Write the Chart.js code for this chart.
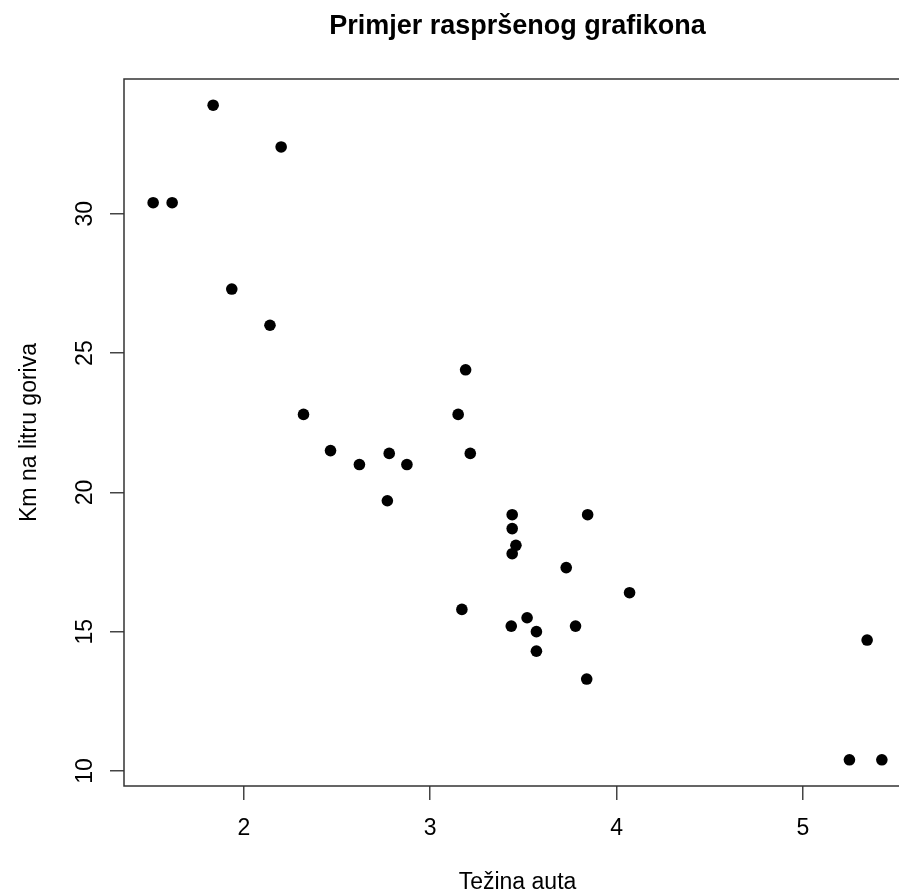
<!DOCTYPE html>
<html>
<head>
<meta charset="utf-8">
<script src="https://cdn.jsdelivr.net/npm/chart.js@4"></script>
<style>
  html, body { margin: 0; padding: 0; background: #fff; overflow: hidden; }
  canvas { display: block; }
</style>
</head>
<body>
<canvas id="scatter" width="940" height="892"></canvas>
<script>
// Težina auta (wt) i km na litru goriva (mpg)
const weights = [2.620, 2.875, 2.320, 3.215, 3.440, 3.460, 3.570, 3.190, 3.150, 3.440, 3.440, 4.070, 3.730, 3.780, 5.250, 5.424,
                 5.345, 2.200, 1.615, 1.835, 2.465, 3.520, 3.435, 3.840, 3.845, 1.935, 2.140, 1.513, 3.170, 2.770, 3.570, 2.780];
const kmPerLitre = [21.0, 21.0, 22.8, 21.4, 18.7, 18.1, 14.3, 24.4, 22.8, 19.2, 17.8, 16.4, 17.3, 15.2, 10.4, 10.4,
                    14.7, 32.4, 30.4, 33.9, 21.5, 15.5, 15.2, 13.3, 19.2, 27.3, 26.0, 30.4, 15.8, 19.7, 15.0, 21.4];
const xTicks = [2, 3, 4, 5];
const yTicks = [10, 15, 20, 25, 30];

const chartTitle = 'Primjer raspršenog grafikona';
const xTitle = 'Težina auta';
const yTitle = 'Km na litru goriva';

const points = weights.map((w, i) => ({ x: w, y: kmPerLitre[i] }));

// R dodaje 4% na raspon podataka
function padRange(arr) {
    const lo = Math.min(...arr), hi = Math.max(...arr);
    const d = (hi - lo) * 0.04;
    return [lo - d, hi + d];
}
const [xMin, xMax] = padRange(weights);
const [yMin, yMax] = padRange(kmPerLitre);

const FONT = '"Liberation Sans", Arial, Helvetica, sans-serif';

// okvir i tekstovi u stilu R-a
const rStyle = {
    id: 'rStyle',
    afterDraw(chart) {
        const ctx = chart.ctx;
        const area = chart.chartArea;
        const xs = chart.scales.x, ys = chart.scales.y;
        ctx.save();
        ctx.strokeStyle = '#333';
        ctx.lineWidth = 1.5;
        ctx.strokeRect(area.left, area.top, area.right - area.left, area.bottom - area.top);

        ctx.fillStyle = '#000';
        ctx.font = '23px ' + FONT;
        ctx.textAlign = 'center';
        ctx.textBaseline = 'alphabetic';
        xTicks.forEach(v => ctx.fillText(String(v), xs.getPixelForValue(v), 835));
        yTicks.forEach(v => {
            ctx.save();
            ctx.translate(92, ys.getPixelForValue(v));
            ctx.rotate(-Math.PI / 2);
            ctx.fillText(String(v), 0, 0);
            ctx.restore();
        });

        const cx = (area.left + area.right) / 2;
        ctx.fillText(xTitle, cx, 889);
        ctx.save();
        ctx.translate(36, (area.top + area.bottom) / 2);
        ctx.rotate(-Math.PI / 2);
        ctx.fillText(yTitle, 0, 0);
        ctx.restore();

        ctx.font = 'bold 27px ' + FONT;
        ctx.fillText(chartTitle, cx, 34);
        ctx.restore();
    }
};

new Chart(document.getElementById('scatter'), {
    type: 'scatter',
    data: {
        datasets: [{
            data: points,
            backgroundColor: '#000',
            borderColor: '#000',
            pointRadius: 5.8,
            pointHoverRadius: 5.8,
            borderWidth: 0
        }]
    },
    options: {
        responsive: false,
        animation: false,
        layout: { padding: { top: 79, right: 29, left: 0, bottom: 0 } },
        plugins: {
            legend: { display: false },
            tooltip: { enabled: false },
            title: { display: false }
        },
        scales: {
            x: {
                type: 'linear',
                min: xMin,
                max: xMax,
                afterBuildTicks: scale => { scale.ticks = xTicks.map(v => ({ value: v })); },
                afterFit: scale => { scale.height = 892 - 786; },
                ticks: { display: false },
                grid: { drawOnChartArea: false, drawTicks: true, tickLength: 14, color: '#444', lineWidth: 1.5 },
                border: { display: false }
            },
            y: {
                type: 'linear',
                min: yMin,
                max: yMax,
                afterBuildTicks: scale => { scale.ticks = yTicks.map(v => ({ value: v })); },
                afterFit: scale => { scale.width = 124; },
                ticks: { display: false },
                grid: { drawOnChartArea: false, drawTicks: true, tickLength: 14, color: '#444', lineWidth: 1.5 },
                border: { display: false }
            }
        }
    },
    plugins: [rStyle]
});
</script>
</body>
</html>
